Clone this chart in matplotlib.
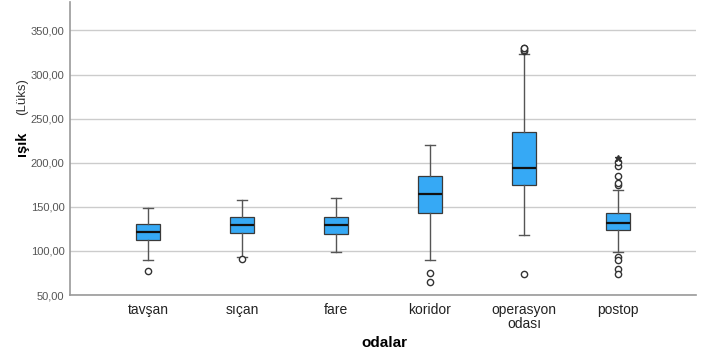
import matplotlib
matplotlib.use("Agg")
import matplotlib.pyplot as plt
from matplotlib.ticker import FuncFormatter

plt.rcParams['font.family'] = ['Liberation Sans', 'DejaVu Sans']

categories = ["tavşan", "sıçan", "fare", "koridor", "operasyon\nodası", "postop"]
whislo = [89.6, 93.4, 98.7, 89.6, 118.0, 98.3]
q1 = [112.0, 120.5, 119.0, 143.0, 175.0, 124.0]
med = [121.0, 129.0, 129.0, 165.0, 194.0, 131.5]
q3 = [130.4, 138.7, 138.7, 185.0, 235.0, 143.0]
whishi = [149.0, 158.0, 159.5, 219.8, 323.0, 169.0]
outliers = [
    [77.5],
    [90.4],
    [],
    [74.5, 64.4],
    [73.4, 326.5, 328.0, 329.5, 330.5],
    [93.4, 89.6, 79.5, 73.4, 174.5, 177.0, 185.0, 196.5, 201.0],
]
extremes = [[], [], [], [], [], [205.0]]
yticks = [50, 100, 150, 200, 250, 300, 350]

fig = plt.figure(figsize=(7.05, 3.59), dpi=100)
ax = fig.add_axes([0.0993, 0.178, 0.888, 0.816])

stats = []
for i, c in enumerate(categories):
    stats.append(dict(label=c, whislo=whislo[i], q1=q1[i], med=med[i],
                      q3=q3[i], whishi=whishi[i], fliers=outliers[i]))

pos = list(range(1, len(categories) + 1))
ax.bxp(stats, positions=pos, widths=0.26, patch_artist=True,
       boxprops=dict(facecolor="#36a9f5", edgecolor="#3a3a3a", linewidth=0.9),
       medianprops=dict(color="#111111", linewidth=1.6),
       whiskerprops=dict(color="#555555", linewidth=1.0),
       capprops=dict(color="#555555", linewidth=1.0),
       capwidths=0.11,
       flierprops=dict(marker="o", markersize=4.5, markerfacecolor="white",
                       markeredgecolor="#333333", markeredgewidth=1.0),
       zorder=3)

for i, ex in enumerate(extremes):
    if ex:
        ax.plot([pos[i]] * len(ex), ex, linestyle="none", marker="*",
                markersize=5, color="#333333", zorder=4)

ax.set_xlim(0.17, 6.83)
ax.set_ylim(50, 382)
ax.set_yticks(yticks)
ax.yaxis.set_major_formatter(FuncFormatter(lambda v, p: f"{v:.2f}".replace(".", ",")))
ax.set_xticks(pos)
ax.set_xticklabels(categories, fontsize=10, color="#222222", linespacing=1.0)
ax.tick_params(axis="y", labelsize=8, labelcolor="#555555", length=0, pad=4)
ax.tick_params(axis="x", length=0, pad=6)
ax.grid(axis="y", color="#cccccc", linewidth=1.0, zorder=0)
ax.set_axisbelow(True)
for s in ["top", "right"]:
    ax.spines[s].set_visible(False)
for s in ["left", "bottom"]:
    ax.spines[s].set_color("#999999")
    ax.spines[s].set_linewidth(1.2)

fig.text(0.545, 0.045, "odalar", ha="center", va="center", fontsize=11, fontweight="bold")
fig.text(0.031, 0.60, "ışık", rotation=90, ha="center", va="center", fontsize=10.5, fontweight="bold")
fig.text(0.031, 0.73, "(Lüks)", rotation=90, ha="center", va="center", fontsize=9.5, color="#333333")

fig.savefig("out.png", dpi=100)
